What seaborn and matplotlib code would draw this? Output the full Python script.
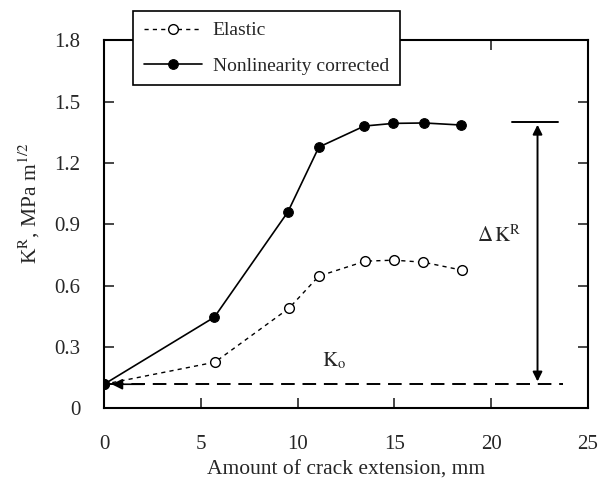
import numpy as np
import pandas as pd
import matplotlib
matplotlib.use("Agg")
import matplotlib.pyplot as plt
import seaborn as sns

# Verileri
x_nonlin = [0, 5.7, 9.5, 11.1, 13.45, 14.95, 16.55, 18.45]
k_nonlin = [0.117, 0.445, 0.96, 1.277, 1.38, 1.393, 1.395, 1.385]
x_elastic = [0, 5.73, 9.56, 11.1, 13.5, 14.98, 16.5, 18.5]
k_elastic = [0.117, 0.225, 0.489, 0.646, 0.719, 0.724, 0.714, 0.675]
k0 = 0.117
k_plateau = 1.40

df_nl = pd.DataFrame({"x": x_nonlin, "k": k_nonlin})
df_el = pd.DataFrame({"x": x_elastic, "k": k_elastic})

sns.set_style("ticks")
plt.rcParams["font.family"] = ["Liberation Serif", "DejaVu Serif"]
plt.rcParams["mathtext.fontset"] = "stix"

fig = plt.figure(figsize=(5.98, 4.90), dpi=100)
ax = fig.add_axes([0.174, 0.167, 0.809, 0.751])

sns.lineplot(data=df_el, x="x", y="k", ax=ax, color="black", linewidth=1.0,
             linestyle=(0, (3, 3)), marker="o", markersize=7,
             markerfacecolor="white", markeredgecolor="black", markeredgewidth=1.0,
             label="Elastic")
sns.lineplot(data=df_nl, x="x", y="k", ax=ax, color="black", linewidth=1.2,
             marker="o", markersize=7, markerfacecolor="black",
             markeredgecolor="black", label="Nonlinearity corrected")

# K0 kesikli çizgisi ve ok
ax.plot([0.3, 23.7], [k0, k0], color="black", linewidth=1.4, linestyle=(0, (7, 4)))
ax.annotate("", xy=(0.25, k0), xytext=(2.2, k0),
            arrowprops=dict(arrowstyle="-|>", color="black", lw=1.2,
                            mutation_scale=16))
# Delta K^R çift ok
ax.plot([21.07, 23.45], [k_plateau, k_plateau], color="black", linewidth=1.4)
ax.annotate("", xy=(22.4, k0), xytext=(22.4, k_plateau),
            arrowprops=dict(arrowstyle="<|-|>", color="black", lw=1.4,
                            mutation_scale=14))

ax.text(19.25, 0.84, r"$\Delta\,\mathrm{K}^{\mathrm{R}}$", fontsize=15, va="center")
ax.text(11.25, 0.23, r"$\mathrm{K}_{\mathrm{o}}$", fontsize=15, va="center")

ax.set_xlim(0, 25)
ax.set_ylim(0, 1.8)
ax.set_xticks([0, 5, 10, 15, 20, 25])
ax.set_yticks([0, 0.3, 0.6, 0.9, 1.2, 1.5, 1.8])
ax.set_yticklabels(["0", "0.3", "0.6", "0.9", "1.2", "1.5", "1.8"])
ax.tick_params(direction="in", length=7, width=1.2, labelsize=15,
               top=True, right=True)
ax.tick_params(axis="x", pad=19)
ax.tick_params(axis="y", pad=17)
for s in ax.spines.values():
    s.set_linewidth(1.5)
    s.set_color("black")

ax.set_xlabel("Amount of crack extension, mm", fontsize=15.5, labelpad=5)
ax.set_ylabel(r"K$^{\mathrm{R}}$, MPa m$^{1/2}$", fontsize=15.5, labelpad=6)
ax.yaxis.set_label_coords(-0.128, 0.557)

leg = ax.legend(loc="upper left", bbox_to_anchor=(0.06, 1.079), borderaxespad=0,
                fontsize=14, frameon=True, fancybox=False, framealpha=1,
                edgecolor="black", handlelength=3.0, handletextpad=0.55,
                labelspacing=0.9, borderpad=0.55)
leg.get_frame().set_linewidth(1.2)
leg.set_zorder(10)

fig.savefig("out.png", dpi=100)
